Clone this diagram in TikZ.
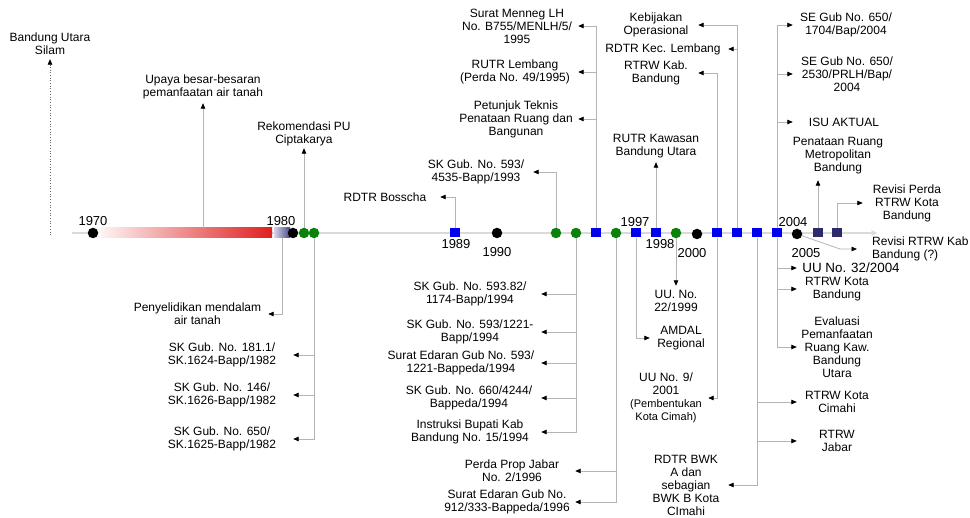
\documentclass[tikz,border=0pt]{standalone}
\usepackage{fontspec}
\setmainfont{Liberation Sans}
\usetikzlibrary{arrows.meta}

\definecolor{linegray}{HTML}{B4B4B4}
\definecolor{axisgray}{HTML}{DADADA}
\definecolor{mkblue}{HTML}{0000F0}
\definecolor{mkgreen}{HTML}{0A820A}
\definecolor{mknavy}{HTML}{2C2A6C}
\definecolor{barred}{HTML}{DF2020}
\definecolor{barlav}{HTML}{D6D6F0}
\newcommand\smallfnt{\fontsize{11}{12}\selectfont}

\begin{document}
\begin{tikzpicture}[x=1pt, y=-1pt,
  lbl/.style={font=\fontsize{12}{13}\selectfont, align=center, inner sep=0pt},
  yr/.style={font=\fontsize{13}{14}\selectfont, inner sep=0pt},
  conn/.style={draw=linegray, line width=0.8pt, -{Triangle[length=5.5pt,width=4.5pt,black]}},
  dotted conn/.style={draw=black!60, line width=0.7pt, dotted, -{Triangle[length=5.5pt,width=4.5pt,black]}},
  axisline/.style={draw=axisgray, line width=1.6pt, -{Stealth[open,length=6pt,width=6pt]}},
  mkblack/.style={circle, fill=black, minimum size=10.5pt, inner sep=0pt},
  mkgrn/.style={circle, fill=mkgreen, minimum size=10.5pt, inner sep=0pt},
  mkbsq/.style={rectangle, fill=mkblue, minimum width=10pt, minimum height=9pt, inner sep=0pt},
  mknsq/.style={rectangle, fill=mknavy, minimum width=10pt, minimum height=9pt, inner sep=0pt}]

\useasboundingbox (0,0) rectangle (970,518);
\fill[white] (0,0) rectangle (970,518);

% ---------- time axis ----------
\coordinate (axstart) at (72,233);
\coordinate (axend) at (877,233);
\draw[axisline] (axstart) -- (axend);

\node[rectangle, minimum width=175pt, minimum height=10pt, inner sep=0pt,
      left color=barred!3!white, right color=barred] (redbar) at (184.5,233) {};
\node[rectangle, minimum width=16pt, minimum height=10pt, inner sep=0pt,
      left color=barlav, right color=mknavy!85] (pbar) at (282,233) {};

% ---------- markers ----------
\node[mkblack] (d1970) at (93,233) {};
\node[mkblack] (d1980) at (293,233) {};
\node[mkgrn]   (g1) at (304,233) {};
\node[mkgrn]   (g2) at (314,233) {};
\node[mkbsq]   (b1989) at (455,233) {};
\node[mkblack] (d1990) at (497,233) {};
\node[mkgrn]   (g3) at (556,233) {};
\node[mkgrn]   (g4) at (576,233) {};
\node[mkbsq]   (b1995) at (596,233) {};
\node[mkgrn]   (g5) at (616,233) {};
\node[mkbsq]   (b1997) at (636,233) {};
\node[mkbsq]   (b1998) at (656,233) {};
\node[mkgrn]   (g6) at (676,233) {};
\node[mkblack] (d2000) at (697,234) {};
\node[mkbsq]   (b717) at (717,233) {};
\node[mkbsq]   (b737) at (737,233) {};
\node[mkbsq]   (b757) at (757,233) {};
\node[mkbsq]   (b777) at (777,233) {};
\node[mkblack] (d2005) at (797,234) {};
\node[mknsq]   (q1) at (818,233) {};
\node[mknsq]   (q2) at (837,233) {};

% ---------- years ----------
\node[yr] (y1970) at (93,221) {1970};
\node[yr] (y1980) at (281,221) {1980};
\node[yr] (y1989) at (456,244) {1989};
\node[yr] (y1990) at (497,252) {1990};
\node[yr] (y1997) at (635,222) {1997};
\node[yr] (y1998) at (660,244) {1998};
\node[yr] (y2000) at (692,253) {2000};
\node[yr] (y2004) at (793,222) {2004};
\node[yr] (y2005) at (806,253) {2005};

% ---------- labels above the axis ----------
\coordinate (silam) at (50,235);
\node[lbl, minimum height=30pt] (bus) at (50,44) {Bandung Utara\\Silam};
\node[lbl, minimum height=32pt] (upaya) at (203,87) {Upaya besar-besaran\\pemanfaatan air tanah};
\node[lbl, minimum height=28pt] (rek) at (304,134) {Rekomendasi PU\\Ciptakarya};
\node[lbl, minimum width=110pt] (bosscha) at (385,197) {RDTR Bosscha};
\node[lbl, minimum width=114pt] (sk4535) at (476,172) {SK Gub. No. 593/\\4535-Bapp/1993};
\node[lbl, minimum width=122pt] (menneg) at (517,26) {Surat Menneg LH\\No. B755/MENLH/5/\\1995};
\node[lbl, minimum width=126pt] (rutrl) at (515,72) {RUTR Lembang\\(Perda No. 49/1995)};
\node[lbl, minimum width=124pt] (juknis) at (516,119) {Petunjuk Teknis\\Penataan Ruang dan\\Bangunan};
\node[lbl, minimum height=32pt] (rutrk) at (656,146) {RUTR Kawasan\\Bandung Utara};
\node[lbl, minimum width=84pt] (kebijakan) at (656,25) {Kebijakan\\Operasional};
\node[lbl, minimum width=130pt] (rdtrkec) at (663,49) {RDTR Kec. Lembang};
\node[lbl, minimum width=84pt] (rtrwkab) at (656,73) {RTRW Kab.\\Bandung};
\node[lbl, minimum width=106pt] (se1704) at (846,25) {SE Gub No. 650/\\1704/Bap/2004};
\node[lbl, minimum width=108pt] (se2530) at (847,74) {SE Gub No. 650/\\2530/PRLH/Bap/\\2004};
\node[lbl, minimum width=102pt] (isu) at (844,122) {ISU AKTUAL};
\node[lbl, minimum height=48pt] (pmb) at (838,156) {Penataan Ruang\\Metropolitan\\Bandung};
\node[lbl, minimum width=88pt] (revperda) at (907,203) {Revisi Perda\\RTRW Kota\\Bandung};
\coordinate (bendR) at (840,249);
\node[lbl, align=left, anchor=west, inner xsep=15pt] (revkab) at (857,249) {Revisi RTRW Kab\\Bandung (?)};

% ---------- labels below the axis ----------
\node[lbl, minimum width=141pt] (peny) at (197.5,314) {Penyelidikan mendalam\\air tanah};
\node[lbl, minimum width=142pt] (sk1624) at (222,355) {SK Gub. No. 181.1/\\SK.1624-Bapp/1982};
\node[lbl, minimum width=142pt] (sk1626) at (222,395) {SK Gub. No. 146/\\SK.1626-Bapp/1982};
\node[lbl, minimum width=142pt] (sk1625) at (222,439) {SK Gub. No. 650/\\SK.1625-Bapp/1982};
\node[lbl, minimum width=142pt] (sk1174) at (470,294) {SK Gub. No. 593.82/\\1174-Bapp/1994};
\node[lbl, minimum width=142pt] (sk1221) at (470,332) {SK Gub. No. 593/1221-\\Bapp/1994};
\node[lbl, minimum width=160pt] (se1221) at (461,363) {Surat Edaran Gub No. 593/\\1221-Bappeda/1994};
\node[lbl, minimum width=144pt] (sk4244) at (469,398) {SK Gub. No. 660/4244/\\Bappeda/1994};
\node[lbl, minimum width=142pt] (instruksi) at (470,432) {Instruksi Bupati Kab\\Bandung No. 15/1994};
\node[lbl, minimum width=126pt] (perdaprop) at (512,471) {Perda Prop Jabar\\No. 2/1996};
\node[lbl, minimum width=136pt] (se912) at (507,502) {Surat Edaran Gub No.\\912/333-Bappeda/1996};
\node[lbl, minimum width=62pt] (amdal) at (681,338) {AMDAL\\Regional};
\node[lbl, minimum height=30pt] (uu22) at (676,301) {UU. No.\\22/1999};
\node[lbl, minimum width=84pt] (uu9) at (666,398) {UU No. 9/\\2001\\{\smallfnt (Pembentukan}\\{\smallfnt Kota Cimah)}};
\node[lbl, minimum width=84pt] (rdtrbwk) at (686,485) {RDTR BWK\\A dan\\sebagian\\BWK B Kota\\CImahi};
\node[lbl, minimum width=80pt] (cimahi) at (837,402) {RTRW Kota\\Cimahi};
\node[lbl, minimum width=80pt] (jabar) at (837,441) {RTRW\\Jabar};
\node[lbl, minimum width=108pt, font=\fontsize{13.4}{14}\selectfont] (uu32) at (851,268) {UU No. 32/2004};
\node[lbl, minimum width=80pt] (rtrwkb) at (837,289) {RTRW Kota\\Bandung};
\node[lbl, minimum width=80pt] (evaluasi) at (837,347) {Evaluasi\\Pemanfaatan\\Ruang Kaw.\\Bandung\\Utara};

% ---------- connectors above ----------
\draw[dotted conn] (silam) -- (silam |- bus.south);
\draw[conn] (upaya.south |- redbar.north) -- (upaya.south);
\draw[conn] (g1) -- (g1 |- rek.south);
\draw[conn] (b1989) |- (bosscha);
\draw[conn] (g3) |- (sk4535);
\draw[conn] (b1995) |- (menneg);
\draw[conn] (b1995) |- (rutrl);
\draw[conn] (b1995) |- (juknis);
\draw[conn] (b1998) -- (b1998 |- rutrk.south);
\draw[conn] (b717) |- (rtrwkab);
\draw[conn] (b737) |- (kebijakan);
\draw[conn] (b737) |- (rdtrkec);
\draw[conn] (b777) |- (se1704);
\draw[conn] (b777) |- (se2530);
\draw[conn] (b777) |- (isu);
\draw[conn] (q1) -- (q1 |- pmb.south);
\draw[conn] (q2) |- (revperda);
\draw[conn] (d2005) -- (bendR) -- (revkab);

% ---------- connectors below ----------
\draw[conn] (pbar) |- (peny);
\draw[conn] (g2) |- (sk1624);
\draw[conn] (g2) |- (sk1626);
\draw[conn] (g2) |- (sk1625);
\draw[conn] (g4) |- (sk1174);
\draw[conn] (g4) |- (sk1221);
\draw[conn] (g4) |- (se1221);
\draw[conn] (g4) |- (sk4244);
\draw[conn] (g4) |- (instruksi);
\draw[conn] (g5) |- (perdaprop);
\draw[conn] (g5) |- (se912);
\draw[conn] (b1997) |- (amdal);
\draw[conn] (g6) -- (g6 |- uu22.north);
\draw[conn] (b717) |- (uu9);
\draw[conn] (b757) |- (rdtrbwk);
\draw[conn] (b757) |- (cimahi);
\draw[conn] (b757) |- (jabar);
\draw[conn] (b777) |- (uu32);
\draw[conn] (b777) |- (rtrwkb);
\draw[conn] (b777) |- (evaluasi);

\end{tikzpicture}
\end{document}
